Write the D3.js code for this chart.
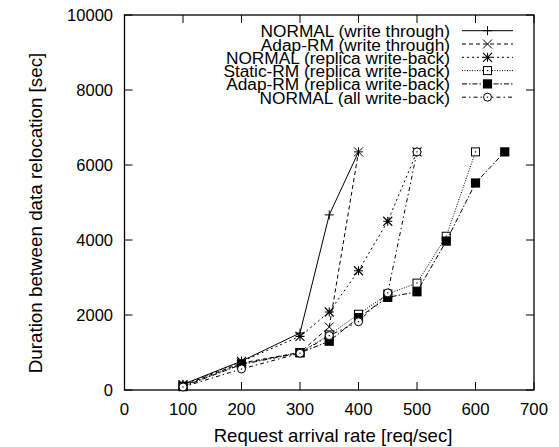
<!DOCTYPE html>
<html><head><meta charset="utf-8">
<script src="https://cdn.jsdelivr.net/npm/d3@7"></script>
<style>body{margin:0;background:#fff}svg{display:block}text{font-family:"Liberation Sans",Arial,Helvetica,sans-serif;fill:#000}</style>
</head><body><svg id="c" width="559" height="447"></svg>
<script>
const seriesNames = ["NORMAL (write through)","Adap-RM (write through)","NORMAL (replica write-back)","Static-RM (replica write-back)","Adap-RM (replica write-back)","NORMAL (all write-back)"];
const xNormalWT = [100,200,300,350,400];
const yNormalWT = [150,770,1520,4670,6350];
const xAdapWT = [100,200,300,350,400];
const yAdapWT = [120,720,1000,1680,6350];
const xNormalRWB = [100,200,300,350,400,450,500];
const yNormalRWB = [140,760,1430,2080,3180,4500,6350];
const xStaticRWB = [100,200,300,350,400,450,500,550,600];
const yStaticRWB = [100,700,1000,1470,2020,2560,2850,4100,6350];
const xAdapRWB = [100,200,300,350,400,450,500,550,600,650];
const yAdapRWB = [90,680,990,1300,1930,2470,2620,3970,5520,6350];
const xNormalAWB = [100,200,300,350,400,450,500];
const yNormalAWB = [80,560,980,1450,1820,2590,6350];
const xTicks = [0,100,200,300,400,500,600,700];
const yTicks = [0,2000,4000,6000,8000,10000];

const xs=[xNormalWT,xAdapWT,xNormalRWB,xStaticRWB,xAdapRWB,xNormalAWB];
const ys=[yNormalWT,yAdapWT,yNormalRWB,yStaticRWB,yAdapRWB,yNormalAWB];
const dashes=[null,"4,3","2,3","1,1.5","5,2,1.5,2","4,3,1.5,3"];
const markers=["plus","cross","star","sqopen","sqfill","circle"];

const svg=d3.select("#c");
const L=124.5,R=534,T=15,B=390;
const x=d3.scaleLinear().domain([0,700]).range([L,R]);
const y=d3.scaleLinear().domain([0,10000]).range([B,T]);

svg.append("rect").attr("x",L).attr("y",T).attr("width",R-L).attr("height",B-T).attr("fill","none").attr("stroke","#000").attr("stroke-width",1.3);
const tl=8;
xTicks.forEach(t=>{
  const px=x(t);
  svg.append("line").attr("x1",px).attr("x2",px).attr("y1",B).attr("y2",B-tl).attr("stroke","#000");
  svg.append("line").attr("x1",px).attr("x2",px).attr("y1",T).attr("y2",T+tl).attr("stroke","#000");
  svg.append("text").attr("x",px).attr("y",415).attr("text-anchor","middle").attr("font-size",16.8).text(t);
});
yTicks.forEach(t=>{
  const py=y(t);
  svg.append("line").attr("x1",L).attr("x2",L+tl).attr("y1",py).attr("y2",py).attr("stroke","#000");
  svg.append("line").attr("x1",R).attr("x2",R-tl).attr("y1",py).attr("y2",py).attr("stroke","#000");
  svg.append("text").attr("x",113).attr("y",py+5.5).attr("text-anchor","end").attr("font-size",16.5).text(t);
});
svg.append("text").attr("x",333).attr("y",442).attr("text-anchor","middle").attr("font-size",18.6).text("Request arrival rate [req/sec]");
svg.append("text").attr("transform","translate(42,213) rotate(-90)").attr("text-anchor","middle").attr("font-size",18.8).text("Duration between data relocation [sec]");

function marker(g,type,cx,cy){
  const s=4.5;
  if(type==="plus"){
    g.append("path").attr("d",`M${cx-s},${cy}H${cx+s}M${cx},${cy-s}V${cy+s}`).attr("stroke","#000").attr("stroke-width",1);
  } else if(type==="cross"){
    g.append("path").attr("d",`M${cx-s},${cy-s}L${cx+s},${cy+s}M${cx-s},${cy+s}L${cx+s},${cy-s}`).attr("stroke","#000").attr("stroke-width",1);
  } else if(type==="star"){
    g.append("path").attr("d",`M${cx-s},${cy}H${cx+s}M${cx},${cy-s}V${cy+s}M${cx-s},${cy-s}L${cx+s},${cy+s}M${cx-s},${cy+s}L${cx+s},${cy-s}`).attr("stroke","#000").attr("stroke-width",1.1);
  } else if(type==="sqopen"){
    g.append("rect").attr("x",cx-4).attr("y",cy-4).attr("width",8).attr("height",8).attr("fill","#fff").attr("stroke","#000").attr("stroke-width",1);
    g.append("rect").attr("x",cx-0.6).attr("y",cy-0.6).attr("width",1.2).attr("height",1.2).attr("fill","#000");
  } else if(type==="sqfill"){
    g.append("rect").attr("x",cx-4.6).attr("y",cy-4.6).attr("width",9.2).attr("height",9.2).attr("fill","#000");
  } else if(type==="circle"){
    g.append("circle").attr("cx",cx).attr("cy",cy).attr("r",4).attr("fill","#fff").attr("stroke","#000").attr("stroke-width",1);
    g.append("rect").attr("x",cx-0.6).attr("y",cy-0.6).attr("width",1.2).attr("height",1.2).attr("fill","#000");
  }
}

const line=d3.line().x(d=>x(d[0])).y(d=>y(d[1]));
for(let i=0;i<6;i++){
  const pts=xs[i].map((v,j)=>[v,ys[i][j]]);
  const g=svg.append("g");
  g.append("path").attr("d",line(pts)).attr("fill","none").attr("stroke","#000").attr("stroke-width",1).attr("stroke-dasharray",dashes[i]);
  pts.forEach(p=>marker(g,markers[i],x(p[0]),y(p[1])));
}
const lx=450, ly0=30.7, ldy=13.3;
seriesNames.forEach((n,i)=>{
  const yy=ly0+i*ldy;
  svg.append("text").attr("x",lx).attr("y",yy+6.5).attr("text-anchor","end").attr("font-size",17.3).text(n);
  const g=svg.append("g");
  g.append("line").attr("x1",462).attr("x2",513).attr("y1",yy).attr("y2",yy).attr("stroke","#000").attr("stroke-width",1).attr("stroke-dasharray",dashes[i]);
  marker(g,markers[i],487.5,yy);
});
</script></body></html>
